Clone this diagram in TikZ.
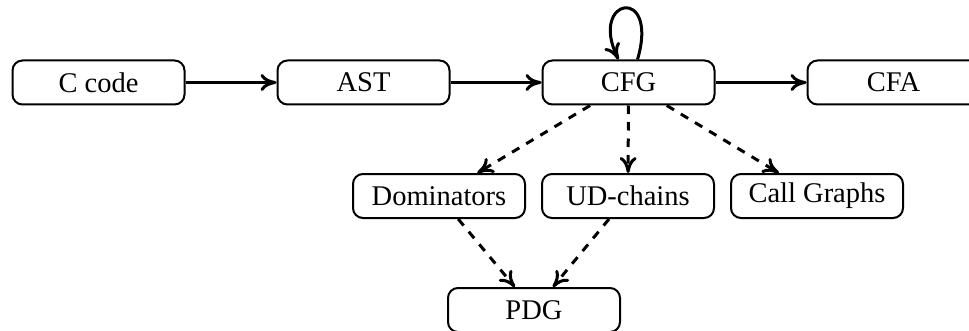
\documentclass[tikz,border=0pt]{standalone}
\usepackage{fontspec}
\setmainfont{Liberation Serif}
\usetikzlibrary{arrows.meta}
\begin{document}
\begin{tikzpicture}[x=1pt,y=1pt,
  box/.style={draw, line width=2pt, rounded corners=10pt, minimum width=172pt, minimum height=44pt, inner sep=0pt, font=\fontsize{28.5}{30}\selectfont},
  tip/.style={-{Computer Modern Rightarrow[length=16pt,width=17pt]}},
  flow/.style={line width=3pt, tip},
  dep/.style={line width=3pt, dash pattern=on 8.5pt off 8pt, tip}]
\useasboundingbox (0,0) rectangle (969,330);
\node[box] (c) at (98.5,247.5) {C code};
\node[box] (ast) at (363.5,247.5) {AST};
\node[box] (cfg) at (628.5,247.5) {CFG};
\node[box] (cfa) at (893.5,247.5) {CFA};
\node[box] (dom) at (439,134) {Dominators};
\node[box] (ud) at (628,134) {UD-chains};
\node[box] (cg) at (817,134) {Call Graphs};
\node[box] (pdg) at (534,20) {PDG};
\draw[flow] (c) -- (ast);
\draw[flow] (ast) -- (cfg);
\draw[flow] (cfg) -- (cfa);
\draw[flow] ([xshift=9pt]cfg.north) .. controls +(22,75) and +(-30,62) .. ([xshift=-10pt]cfg.north);
\draw[dep] (cfg) -- (dom);
\draw[dep] (cfg) -- (ud);
\draw[dep] (cfg) -- (cg);
\draw[dep] (dom) -- (pdg);
\draw[dep] (ud) -- (pdg);
\end{tikzpicture}
\end{document}
